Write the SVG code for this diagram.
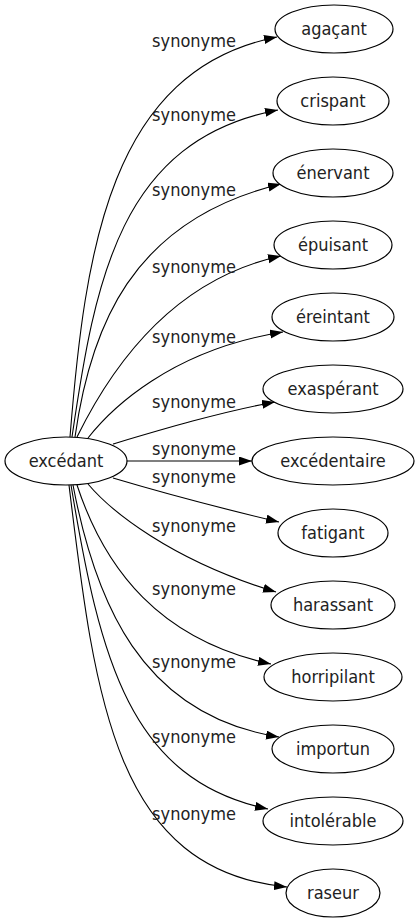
<svg xmlns="http://www.w3.org/2000/svg" width="419" height="923" viewBox="0 0 419 923">
<defs>
<marker id="arr" markerUnits="userSpaceOnUse" markerWidth="14" markerHeight="10" refX="13" refY="4.5" orient="auto">
<path d="M0,0 L13,4.5 L0,9 z" fill="#000"/>
</marker>
</defs>
<style>
.n ellipse{fill:#fff;stroke:#000;stroke-width:1.2}
text{font-family:"DejaVu Sans Condensed","DejaVu Sans",sans-serif;font-stretch:condensed;font-size:18px;fill:#222;text-anchor:middle}
.e path{fill:none;stroke:#000;stroke-width:1.1;marker-end:url(#arr)}
</style>
<rect width="419" height="923" fill="#fff"/>
<g class="e" id="edges">
<path d="M70,437 C85,250 110,70 277,37"/>
<path d="M72,437 C95,280 120,140 278,110"/>
<path d="M75,437 C90,330 130,220 281,184"/>
<path d="M77,437 C110,370 170,280 281,256"/>
<path d="M88,438 C110,410 170,350 283,332"/>
<path d="M113,444 C160,430 220,412 275,402"/>
<path d="M127,461 L252,461"/>
<path d="M113,478 C160,492 220,508 279,522"/>
<path d="M88,484 C110,510 170,560 276,592"/>
<path d="M77,485 C105,570 160,640 271,664"/>
<path d="M73,485 C95,600 140,715 279,737"/>
<path d="M71,485 C100,660 130,780 268,809"/>
<path d="M69,485 C95,700 115,870 287,887"/>
</g>
<g id="labels">
<text x="194" y="47">synonyme</text>
<text x="194" y="121">synonyme</text>
<text x="194" y="196">synonyme</text>
<text x="194" y="273">synonyme</text>
<text x="194" y="343">synonyme</text>
<text x="194" y="408">synonyme</text>
<text x="194" y="455">synonyme</text>
<text x="194" y="483">synonyme</text>
<text x="194" y="532">synonyme</text>
<text x="194" y="595">synonyme</text>
<text x="194" y="668">synonyme</text>
<text x="194" y="743">synonyme</text>
<text x="194" y="820">synonyme</text>
</g>
<g class="n" id="n-excedant"><ellipse cx="66" cy="461" rx="61" ry="24"/><text x="66" y="467">excédant</text></g>
<g class="n" id="n-agacant"><ellipse cx="334" cy="29" rx="59" ry="24"/><text x="334" y="35">agaçant</text></g>
<g class="n" id="n-crispant"><ellipse cx="333" cy="101" rx="56" ry="24"/><text x="333" y="107">crispant</text></g>
<g class="n" id="n-enervant"><ellipse cx="333" cy="173" rx="60" ry="24"/><text x="333" y="179">énervant</text></g>
<g class="n" id="n-epuisant"><ellipse cx="333" cy="245" rx="59" ry="24"/><text x="333" y="251">épuisant</text></g>
<g class="n" id="n-ereintant"><ellipse cx="333" cy="317" rx="61" ry="24"/><text x="333" y="323">éreintant</text></g>
<g class="n" id="n-exasperant"><ellipse cx="333" cy="389" rx="70" ry="24"/><text x="333" y="395">exaspérant</text></g>
<g class="n" id="n-excedentaire"><ellipse cx="333" cy="461" rx="81" ry="24"/><text x="333" y="467">excédentaire</text></g>
<g class="n" id="n-fatigant"><ellipse cx="333" cy="533" rx="55" ry="24"/><text x="333" y="539">fatigant</text></g>
<g class="n" id="n-harassant"><ellipse cx="333" cy="605" rx="62" ry="24"/><text x="333" y="611">harassant</text></g>
<g class="n" id="n-horripilant"><ellipse cx="333" cy="677" rx="69" ry="24"/><text x="333" y="683">horripilant</text></g>
<g class="n" id="n-importun"><ellipse cx="333" cy="749" rx="61" ry="24"/><text x="333" y="755">importun</text></g>
<g class="n" id="n-intolerable"><ellipse cx="333" cy="821" rx="70" ry="24"/><text x="333" y="827">intolérable</text></g>
<g class="n" id="n-raseur"><ellipse cx="333" cy="893" rx="47" ry="24"/><text x="333" y="899">raseur</text></g>
</svg>
